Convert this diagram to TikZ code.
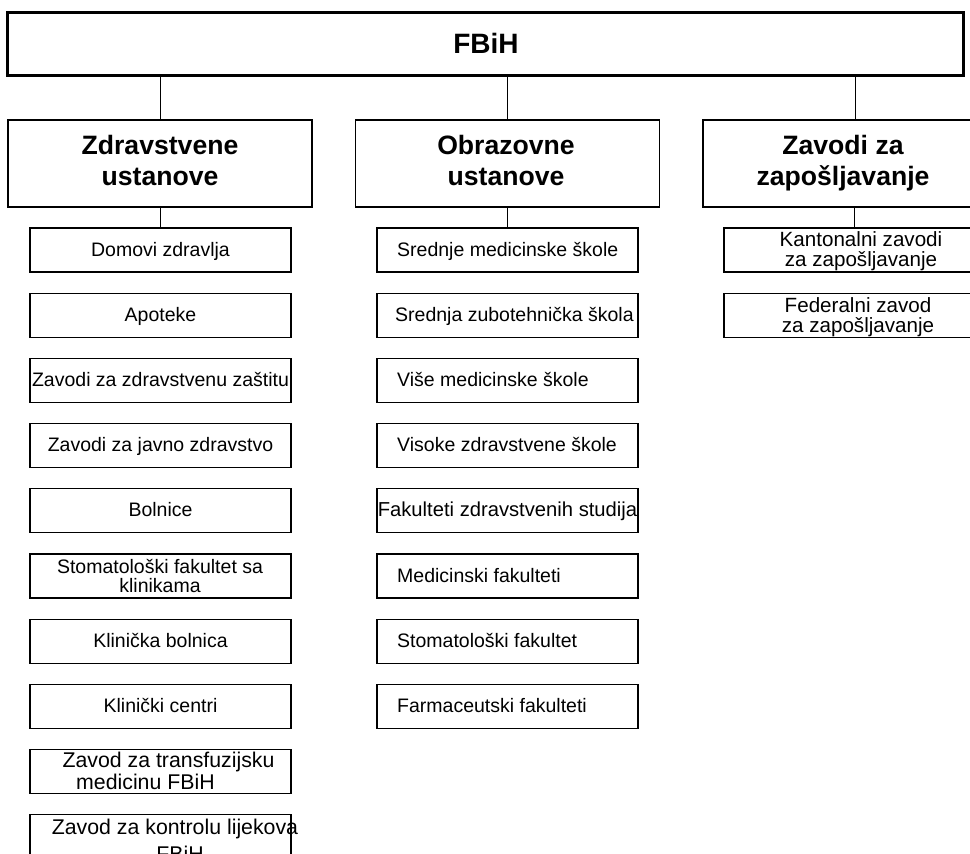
\documentclass[tikz,border=0pt]{standalone}
\usepackage{fontspec}
\setmainfont{Liberation Sans}
\newcommand\myKidF{\fontsize{19.5}{20}\selectfont}
\newcommand\myBigKidF{\fontsize{21.3}{21.5}\selectfont}
\newcommand\myRightF{\fontsize{20.6}{20.6}\selectfont}
\newcommand\myCatF{\fontsize{26.6}{31}\selectfont\bfseries}
\newcommand\myTopF{\fontsize{28}{30}\selectfont\bfseries}
\begin{document}
\begin{tikzpicture}[x=1pt,y=-1pt,
  topbox/.style={draw, line width=3pt, minimum width=956pt, minimum height=63pt, inner sep=0pt},
  catbox/.style={draw, line width=1.4pt, minimum width=304pt, minimum height=87pt, inner sep=0pt},
  kidbox/.style={draw, line width=1.3pt, minimum width=261pt, minimum height=44pt, inner sep=0pt,
                 font=\myKidF, text height=12pt, text depth=0pt},
  txt/.style={anchor=base, inner sep=0pt},
  ltxt/.style={anchor=base west, inner sep=0pt, font=\myKidF},
  link/.style={line width=1pt}
]
\useasboundingbox (0,0) rectangle (970,854);

% top
\node[topbox] (fbih) at (485.5,44) {};
\node[txt, font=\myTopF] (fbiht) at (486,53.5) {FBiH};

% categories
\node[catbox] (zdr) at (160,163.5) {};
\node[catbox] (obr) at (507.5,163.5) {};
\node[catbox] (zav) at (855,163.5) {};
\node[txt, font=\myCatF] (zdr1) at (160,154) {Zdravstvene};
\node[txt, font=\myCatF] (zdr2) at (160,185) {ustanove};
\node[txt, font=\myCatF] (obr1) at (506,154) {Obrazovne};
\node[txt, font=\myCatF] (obr2) at (506,185) {ustanove};
\node[txt, font=\myCatF] (zav1) at (843,154) {Zavodi za};
\node[txt, font=\myCatF] (zav2) at (843,185) {zapošljavanje};

\draw[link] (fbih.south -| zdr.north) -- (zdr.north);
\draw[link] (fbih.south -| obr.north) -- (obr.north);
\draw[link] (fbih.south -| zav.north) -- (zav.north);

% left column
\node[kidbox] (a0) at (160.5,250)   {Domovi zdravlja};
\node[kidbox] (a1) at (160.5,315.2) {Apoteke};
\node[kidbox] (a2) at (160.5,380.4) {Zavodi za zdravstvenu zaštitu};
\node[kidbox] (a3) at (160.5,445.6) {Zavodi za javno zdravstvo};
\node[kidbox] (a4) at (160.5,510.8) {Bolnice};
\node[kidbox] (a5) at (160.5,576)   {};
\node[txt, font=\myKidF] (a5a) at (160,573) {Stomatološki fakultet sa};
\node[txt, font=\myKidF] (a5b) at (160,592) {klinikama};
\node[kidbox] (a6) at (160.5,641.2) {Klinička bolnica};
\node[kidbox] (a7) at (160.5,706.4) {Klinički centri};
\node[kidbox] (a8) at (160.5,771.6) {};
\node[txt, font=\myBigKidF] (a8a) at (168.5,767.6) {Zavod za transfuzijsku};
\node[txt, font=\myBigKidF, anchor=base west] (a8b) at (76,789) {medicinu FBiH};
\node[kidbox] (a9) at (160.5,836.8) {};
\node[txt, font=\myBigKidF] (a9a) at (175,834) {Zavod za kontrolu lijekova};
\node[txt, font=\myBigKidF] (a9b) at (180,861) {FBiH};

\draw[link] (zdr.south -| a0.north) -- (a0.north);

% middle column
\node[kidbox] (b0) at (507.5,250)   {};
\node[kidbox] (b1) at (507.5,315.2) {};
\node[kidbox] (b2) at (507.5,380.4) {};
\node[kidbox] (b3) at (507.5,445.6) {};
\node[kidbox, font=\fontsize{20.2}{20.2}\selectfont] (b4) at (507.5,510.8) {Fakulteti zdravstvenih studija};
\node[kidbox] (b5) at (507.5,576)   {};
\node[kidbox] (b6) at (507.5,641.2) {};
\node[kidbox] (b7) at (507.5,706.4) {};
\node[ltxt] (b0t) at (397,256)   {Srednje medicinske škole};
\node[ltxt] (b1t) at (395,321.2) {Srednja zubotehnička škola};
\node[ltxt] (b2t) at (397,386.4) {Više medicinske škole};
\node[ltxt] (b3t) at (397,451.6) {Visoke zdravstvene škole};
\node[ltxt] (b5t) at (397,582)   {Medicinski fakulteti};
\node[ltxt] (b6t) at (397,647.2) {Stomatološki fakultet};
\node[ltxt] (b7t) at (397,712.4) {Farmaceutski fakulteti};

\draw[link] (obr.south -| b0.north) -- (b0.north);

% right column
\node[kidbox] (c0) at (854.5,250) {};
\node[txt, font=\myRightF] (c0a) at (861,246.7) {Kantonalni zavodi};
\node[txt, font=\myRightF] (c0b) at (861,266.7) {za zapošljavanje};
\node[kidbox] (c1) at (854.5,315.2) {};
\node[txt, font=\myRightF] (c1a) at (858,312) {Federalni zavod};
\node[txt, font=\myRightF] (c1b) at (858,332) {za zapošljavanje};

\draw[link] (zav.south -| c0.north) -- (c0.north);
\end{tikzpicture}
\end{document}
